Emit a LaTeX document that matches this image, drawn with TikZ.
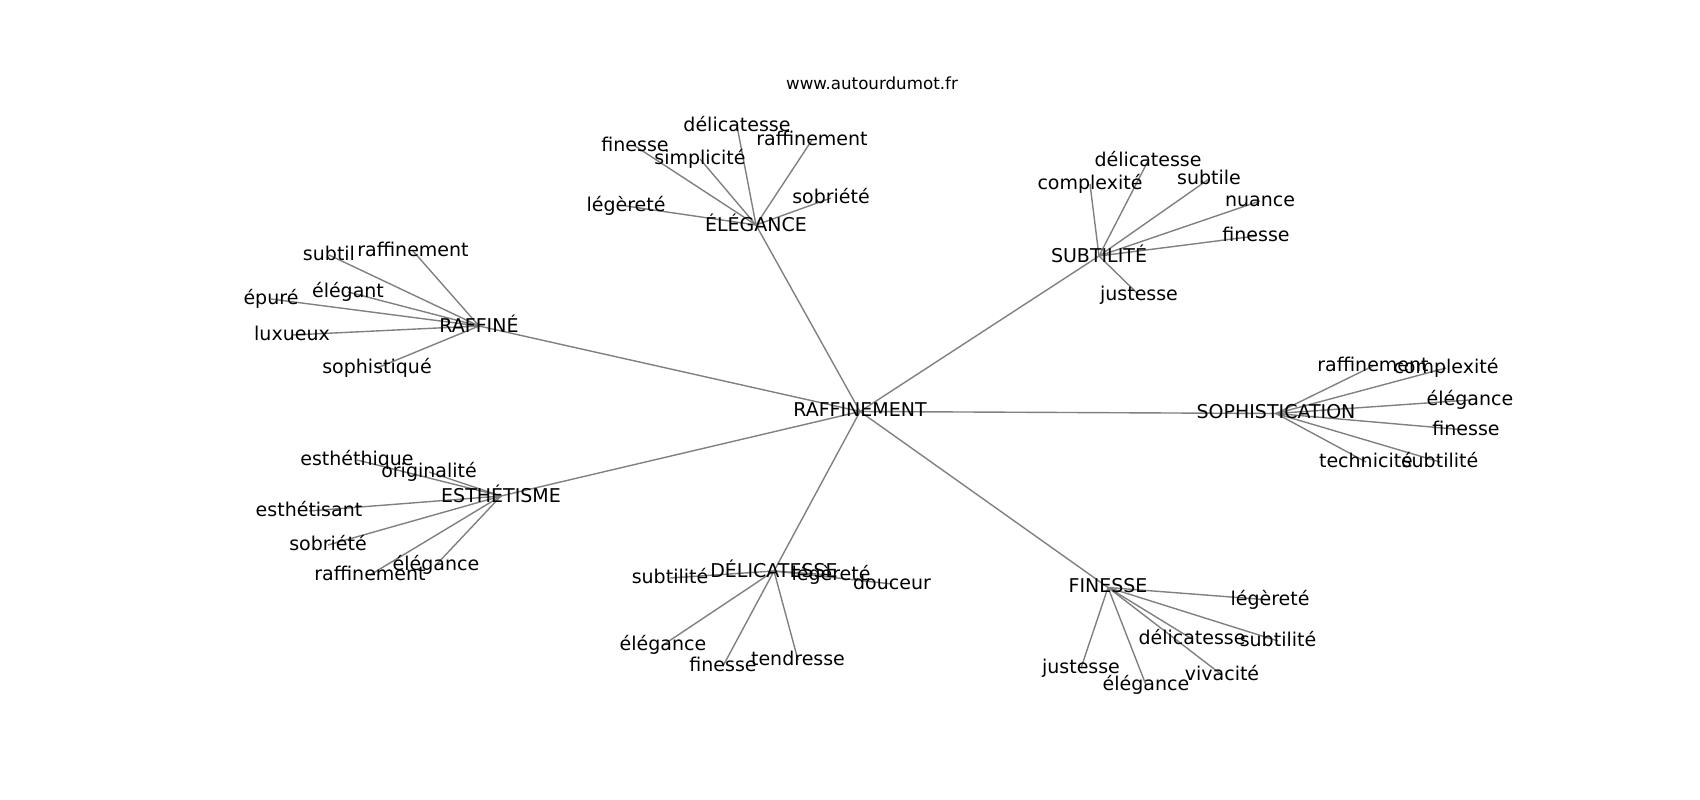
\documentclass[tikz,border=0pt]{standalone}
\usepackage{fontspec}
\setmainfont{DejaVu Sans}
\usetikzlibrary{backgrounds}
\begin{document}
\begin{tikzpicture}[x=1pt,y=-1pt,
  lbl/.style={inner sep=0pt,anchor=center,font=\fontsize{19}{22}\selectfont,execute at begin node=\vphantom{lp}},
  ttl/.style={inner sep=0pt,anchor=center,font=\fontsize{16.7}{20}\selectfont},
  edge/.style={draw={rgb,255:red,128;green,128;blue,128},line width=1.4pt}]
\useasboundingbox (0,0) rectangle (1700,800);
\node[ttl] (title) at (872,83) {www.autourdumot.fr};
% hubs
\node[lbl] (c) at (860,411.5) {RAFFINEMENT};
\node[lbl] (e) at (756,225) {ÉLÉGANCE};
\node[lbl] (s) at (1099,256) {SUBTILITÉ};
\node[lbl] (r) at (479,326) {RAFFINÉ};
\node[lbl] (p) at (1276,413.5) {SOPHISTICATION};
\node[lbl] (t) at (501,496) {ESTHÉTISME};
\node[lbl] (d) at (774,571) {DÉLICATESSE};
\node[lbl] (f) at (1108,587.5) {FINESSE};
% ÉLÉGANCE leaves
\node[lbl] (e1) at (737,126) {délicatesse};
\node[lbl] (e2) at (635,146) {finesse};
\node[lbl] (e3) at (700,159) {simplicité};
\node[lbl] (e4) at (812,140) {raffinement};
\node[lbl] (e5) at (831,198) {sobriété};
\node[lbl] (e6) at (626,206) {légèreté};
% SUBTILITÉ leaves
\node[lbl] (s1) at (1148,161) {délicatesse};
\node[lbl] (s2) at (1090,184) {complexité};
\node[lbl] (s3) at (1209,179) {subtile};
\node[lbl] (s4) at (1260,201) {nuance};
\node[lbl] (s5) at (1256,236) {finesse};
\node[lbl] (s6) at (1139,295) {justesse};
% RAFFINÉ leaves
\node[lbl] (r1) at (329,255) {subtil};
\node[lbl] (r2) at (413,251) {raffinement};
\node[lbl] (r3) at (348,292) {élégant};
\node[lbl] (r4) at (271,299) {épuré};
\node[lbl] (r5) at (292,335) {luxueux};
\node[lbl] (r6) at (377,368) {sophistiqué};
% SOPHISTICATION leaves
\node[lbl] (p1) at (1373,366) {raffinement};
\node[lbl] (p2) at (1446,368) {complexité};
\node[lbl] (p3) at (1470,400) {élégance};
\node[lbl] (p4) at (1466,430) {finesse};
\node[lbl] (p5) at (1366,462) {technicité};
\node[lbl] (p6) at (1440,462) {subtilité};
% ESTHÉTISME leaves
\node[lbl] (t1) at (357,460) {esthéthique};
\node[lbl] (t2) at (429,472) {originalité};
\node[lbl] (t3) at (309,511) {esthétisant};
\node[lbl] (t4) at (328,545) {sobriété};
\node[lbl] (t5) at (370,575) {raffinement};
\node[lbl] (t6) at (436,565) {élégance};
% DÉLICATESSE leaves
\node[lbl] (d1) at (670,578) {subtilité};
\node[lbl] (d2) at (831,575) {légèreté};
\node[lbl] (d3) at (892,584) {douceur};
\node[lbl] (d4) at (663,645) {élégance};
\node[lbl] (d5) at (723,666) {finesse};
\node[lbl] (d6) at (798,660) {tendresse};
% FINESSE leaves
\node[lbl] (f1) at (1270,600) {légèreté};
\node[lbl] (f2) at (1278,641) {subtilité};
\node[lbl] (f3) at (1192,639) {délicatesse};
\node[lbl] (f4) at (1081,668) {justesse};
\node[lbl] (f5) at (1146,685) {élégance};
\node[lbl] (f6) at (1222,675) {vivacité};
\begin{pgfonlayer}{background}
\foreach \h in {e,s,r,p,t,d,f}{
  \draw[edge] (c.center) -- (\h.center);
  \foreach \i in {1,...,6}{
    \draw[edge] (\h.center) -- (\h\i.center);
  }
}
\end{pgfonlayer}
\end{tikzpicture}
\end{document}
